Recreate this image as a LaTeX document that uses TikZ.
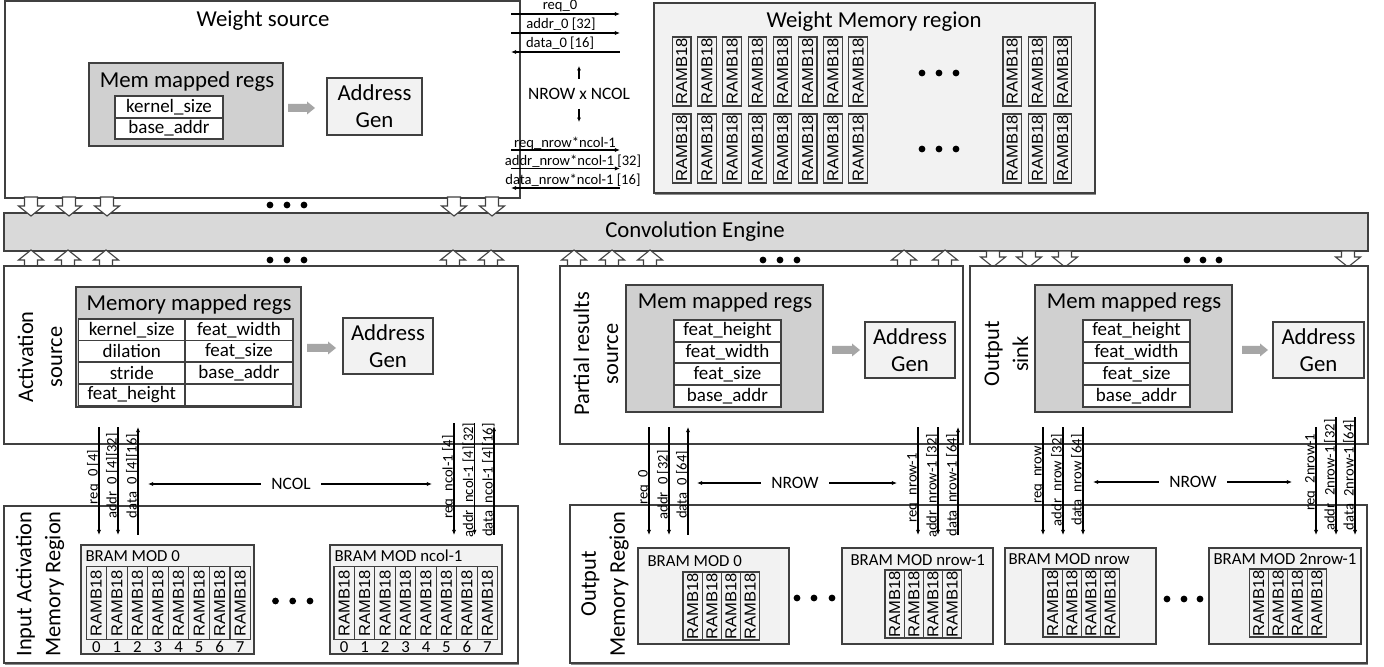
\documentclass[tikz,border=0pt]{standalone}
\usepackage{fontspec}
\setmainfont{Carlito}
\newfontfamily\arialf{Liberation Sans}
\usetikzlibrary{arrows.meta}
\definecolor{edge}{HTML}{404040}
\definecolor{regfill}{HTML}{D0D0D0}
\definecolor{lightfill}{HTML}{F2F2F2}
\definecolor{barfill}{HTML}{D9D9D9}
\definecolor{garrow}{HTML}{A6A6A6}
\definecolor{shadowc}{HTML}{8C8C8C}
\newcommand\bigf{\fontsize{11.4}{13.5}\selectfont}
\newcommand\rotf{\fontsize{11.2}{14.5}\selectfont}
\newcommand\medf{\fontsize{9.5}{11}\selectfont}
\newcommand\modf{\fontsize{8.4}{10}\selectfont}
\newcommand\sigf{\fontsize{7.3}{8.5}\selectfont}
\newcommand\nf{\fontsize{8.7}{10}\selectfont}
\newcommand\ramf{\arialf\fontsize{7.9}{9}\selectfont}
\newcommand\ramt{\scalebox{1.05}[1]{RAMB18}}
% box node from corner coordinates (pixel units)
\newcommand\mybox[6][]{\node[draw=edge,inner sep=0pt,#1,minimum width={(#5-#3)*0.5pt},minimum height={(#6-#4)*0.5pt}] (#2) at ({(#3+#5)/2},{(#4+#6)/2}) {};}
\newcommand\mycell[7][]{\node[draw=edge,fill=white,inner sep=0pt,font=\medf,#1,minimum width={(#5-#3)*0.5pt},minimum height={(#6-#4)*0.5pt}] (#2) at ({(#3+#5)/2},{(#4+#6)/2}) {#7};}
% block arrows
\newcommand\darr[3]{\draw[draw=edge,fill=white] (#1-6.5,#2) -- (#1+6.5,#2) -- (#1+6.5,#3-10) -- (#1+12.5,#3-10) -- (#1,#3) -- (#1-12.5,#3-10) -- (#1-6.5,#3-10) -- cycle;}
\newcommand\uarr[3]{\draw[draw=edge,fill=white] (#1-6.5,#2) -- (#1+6.5,#2) -- (#1+6.5,#3+10) -- (#1+12.5,#3+10) -- (#1,#3) -- (#1-12.5,#3+10) -- (#1-6.5,#3+10) -- cycle;}
\newcommand\garr[3]{\fill[garrow] (#1,#3-4) -- (#2-8,#3-4) -- (#2-8,#3-6.5) -- (#2,#3) -- (#2-8,#3+6.5) -- (#2-8,#3+4) -- (#1,#3+4) -- cycle;}
\newcommand\threedots[4]{\fill (#1,#4) circle[radius=1.7pt] (#2,#4) circle[radius=1.7pt] (#3,#4) circle[radius=1.7pt];}
\begin{document}
\begin{tikzpicture}[x=0.5pt,y=-0.5pt,line width=0.55pt,
  >={Latex[length=2.6pt,width=2.2pt]},
  sig/.style={font=\sigf,inner sep=0pt},
  vsig/.style={font=\sigf,inner sep=0pt,rotate=90,anchor=base},
  title/.style={font=\bigf,inner sep=0pt},
  rottitle/.style={font=\rotf,rotate=90,align=center,inner sep=0pt},
  ramw/.style={draw=edge,rotate=90,inner sep=0pt,minimum width=34.5pt,minimum height=9.25pt,font=\ramf},
  ramin/.style={draw=edge,rotate=90,inner sep=0pt,minimum width=36.5pt,minimum height=10.25pt,font=\ramf},
  ramo/.style={draw=edge,rotate=90,inner sep=0pt,minimum width=34pt,minimum height=9.6pt,font=\ramf},
  nlab/.style={font=\nf,inner ysep=0pt,inner xsep=5pt},
  modlab/.style={font=\modf,anchor=west,inner sep=0pt},
  ag/.style={draw=edge,fill=lightfill,font=\bigf,align=center,inner sep=0pt}]
\useasboundingbox (0,0) rectangle (1384,667);

% ================= Weight source =================
\mybox[fill=white]{ws}{5}{1}{520}{198}
\node[title] (wst) at (263,21) {Weight source};
\mybox[fill=regfill]{wsr}{89}{63}{283}{146}
\node[title] (wsrt) at (187,82) {Mem mapped regs};
\mycell{wsc1}{115}{96}{223}{118}{kernel\_size}
\mycell{wsc2}{115}{118}{223}{139}{base\_addr}
\garr{288}{315}{108}
\node[ag,minimum width=47.5pt,minimum height=28.5pt] (wsag) at (374.5,106.5) {Address\\Gen};

% weight signals
\node[sig,anchor=base] (s1) at (560,10) {req\_0};
\draw[->] (511,14) -- (620,14);
\node[sig,anchor=base] (s2) at (561,29) {addr\_0 [32]};
\draw[->] (511,33) -- (620,33);
\node[sig,anchor=base] (s3) at (560,48) {data\_0 [16]};
\draw[<-] (511,52) -- (620,52);
\node[font=\nf,inner sep=0pt] (nxn) at (579,94) {NROW x NCOL};
\draw[->,>={Latex[length=2.2pt,width=2pt]}] (579,79) -- (579,66);
\draw[->,>={Latex[length=2.2pt,width=2pt]}] (579,109) -- (579,122);
\node[sig,anchor=base] (s4) at (565,147.5) {req\_nrow*ncol-1};
\draw[->] (511,150) -- (620,150);
\node[sig,anchor=base] (s5) at (573,166) {addr\_nrow*ncol-1 [32]};
\draw[->] (511,168.5) -- (620,168.5);
\node[sig,anchor=base] (s6) at (573,185) {data\_nrow*ncol-1 [16]};
\draw[<-] (511,188) -- (620,188);

% ================= Weight memory region =================
\fill[shadowc] (655,5) rectangle (1096,195);
\mybox[fill=lightfill]{wm}{654}{3}{1095}{193}
\node[title] (wmt) at (874,22) {Weight Memory region};
\foreach \i in {0,...,7}{
  \node[ramw] (wa\i) at ({681.75+25.2*\i},71.5) {\ramt};
  \node[ramw] (wb\i) at ({681.75+25.2*\i},148.5) {\ramt};
}
\foreach \x [count=\j] in {1012.25,1037.45,1062.65}{
  \node[ramw] (wc\j) at (\x,71.5) {\ramt};
  \node[ramw] (wd\j) at (\x,148.5) {\ramt};
}
\threedots{922}{939}{956}{73}
\threedots{922}{939}{956}{149}

% ================= Convolution engine =================
\mybox[fill=barfill]{ce}{4}{213}{1368}{251}
\node[title] (cet) at (695,232) {Convolution Engine};
\foreach \x in {31,69,107,454,492}{\darr{\x}{197}{216}}
\threedots{270}{287}{304}{205}
\foreach \x in {31,68,106,453,491}{\uarr{\x}{266}{250}}
\threedots{270}{287}{304}{260}
\foreach \x in {574,612,650,904,945}{\uarr{\x}{266}{250}}
\threedots{763}{780}{797}{260}
\foreach \x in {993,1029,1065,1348}{\darr{\x}{251}{267}}
\threedots{1187}{1203}{1219}{260}

% ================= Activation source =================
\mybox[fill=white]{as}{4}{266}{518}{444}
\node[rottitle] (ast) at (40,357) {Activation\\source};
\mybox[fill=regfill]{asr}{76}{287}{301}{407}
\node[title] (asrt) at (189,305) {Memory mapped regs};
\mycell{a11}{78.5}{319}{185}{340.5}{kernel\_size}
\mycell{a12}{185}{319}{293}{340.5}{feat\_width}
\mycell{a21}{78.5}{340.5}{185}{362}{dilation}
\mycell{a22}{185}{340.5}{293}{362}{feat\_size}
\mycell{a31}{78.5}{362}{185}{384}{stride}
\mycell{a32}{185}{362}{293}{384}{base\_addr}
\mycell{a41}{78.5}{384}{185}{406}{feat\_height}
\mycell{a42}{185}{384}{293}{406}{}
\garr{307}{336}{348}
\node[ag,minimum width=45pt,minimum height=28pt] (asag) at (388,346) {Address\\Gen};

% ================= Partial results source =================
\mybox[fill=white]{ps}{560}{266}{963}{444}
\node[rottitle] (pst) at (596,354) {Partial results\\source};
\mybox[fill=regfill]{psr}{626}{285}{823}{412}
\node[title] (psrt) at (725,303) {Mem mapped regs};
\mycell{p1}{674}{320}{781}{342}{feat\_height}
\mycell{p2}{674}{342}{781}{363}{feat\_width}
\mycell{p3}{674}{363}{781}{385}{feat\_size}
\mycell{p4}{674}{385}{781}{407}{base\_addr}
\garr{832}{860}{350}
\node[ag,minimum width=45pt,minimum height=28pt] (psag) at (910,350) {Address\\Gen};

% ================= Output sink =================
\mybox[fill=white]{os}{970}{266}{1368}{444}
\node[rottitle] (ost) at (1006.5,354) {Output\\sink};
\mybox[fill=regfill]{osr}{1035}{285}{1232}{412}
\node[title] (osrt) at (1134,303) {Mem mapped regs};
\mycell{o1}{1083}{320}{1190}{342}{feat\_height}
\mycell{o2}{1083}{342}{1190}{363}{feat\_width}
\mycell{o3}{1083}{363}{1190}{385}{feat\_size}
\mycell{o4}{1083}{385}{1190}{407}{base\_addr}
\garr{1242}{1268}{350}
\node[ag,minimum width=45.5pt,minimum height=28pt] (osag) at (1318.5,350) {Address\\Gen};

% ================= Input activation memory region =================
\fill[shadowc] (5,508) rectangle (519,665);
\mybox[fill=white]{im}{4}{506}{518}{663}
\node[rottitle] (imt) at (40,584) {Input Activation\\Memory Region};
\mybox[fill=lightfill]{ib0}{81}{545}{254}{654}
\node[modlab] (ib0t) at (85,556) {BRAM MOD 0};
\foreach \i in {0,...,7}{
  \node[ramin] (ia\i) at ({96.3+20.56*\i},603) {\ramt};
  \node[font=\modf,inner sep=0pt] (iad\i) at ({96.3+20.56*\i},647) {\i};
}
\mybox[fill=lightfill]{ib1}{330}{545}{502}{654}
\node[modlab] (ib1t) at (334,556) {BRAM MOD ncol-1};
\foreach \i in {0,...,7}{
  \node[ramin] (ib\i) at ({344.2+20.45*\i},603) {\ramt};
  \node[font=\modf,inner sep=0pt] (ibd\i) at ({344.2+20.45*\i},647) {\i};
}
\threedots{275.5}{292.7}{310}{601}

% activation signals
\draw[->] (99,427) -- (99,535);
\draw[->] (118,427) -- (118,535);
\draw[<-] (138,427) -- (138,535);
\node[vsig] (l1) at (97.5,477) {req\_0 [4]};
\node[vsig] (l2) at (116.5,476) {addr\_0 [4][32]};
\node[vsig] (l3) at (136.5,476) {data\_0 [4][16]};
\draw[->] (454,423) -- (454,535);
\draw[->] (474.5,423) -- (474.5,535);
\draw[<-] (494,426) -- (494,535);
\node[vsig] (l4) at (452.5,477) {req\_ncol-1 [4]};
\node[vsig] (l5) at (473,480) {addr\_ncol-1 [4][32]};
\node[vsig] (l6) at (492.5,480) {data\_ncol-1 [4][16]};
\node[nlab] (ncol) at (291,484) {NCOL};
\draw[->] (ncol.west) -- (148,484);
\draw[->] (ncol.east) -- (432,484);

% ================= Output memory region =================
\fill[shadowc] (571,507) rectangle (1368,665);
\mybox[fill=white]{om}{570}{505}{1367}{663}
\node[rottitle] (omt) at (605,584) {Output\\Memory Region};
\mybox[fill=lightfill]{ob0}{638}{548}{789}{644}
\node[modlab] (ob0t) at (647,561) {BRAM MOD 0};
\mybox[fill=lightfill]{ob1}{842}{548}{993}{644}
\node[modlab] (ob1t) at (850,560) {BRAM MOD nrow-1};
\mybox[fill=lightfill]{ob2}{1005}{548}{1156}{644}
\node[modlab] (ob2t) at (1008,559) {BRAM MOD nrow};
\mybox[fill=lightfill]{ob3}{1209}{548}{1361}{644}
\node[modlab] (ob3t) at (1213,559) {BRAM MOD 2nrow-1};
\foreach \i in {0,...,3}{
  \node[ramo] (oa\i) at ({692.6+19.2*\i},606) {\ramt};
  \node[ramo] (ob\i) at ({894.6+19.2*\i},604) {\ramt};
  \node[ramo] (oc\i) at ({1052.6+19.2*\i},603) {\ramt};
  \node[ramo] (od\i) at ({1258.7+19.4*\i},603) {\ramt};
}
\threedots{797}{814}{832}{598}
\threedots{1167}{1184}{1200}{599}

% partial result signals
\draw[->] (649,427) -- (649,535);
\draw[->] (669,427) -- (669,535);
\draw[<-] (688,427) -- (688,535);
\node[vsig] (m1) at (647.5,487) {req\_0};
\node[vsig] (m2) at (667.5,485) {addr\_0 [32]};
\node[vsig] (m3) at (686.5,485) {data\_0 [64]};
\draw[->] (918,427) -- (918,535);
\draw[->] (938,427) -- (938,535);
\draw[<-] (958,427) -- (958,535);
\node[vsig] (m4) at (916.5,488) {req\_nrow-1};
\node[vsig] (m5) at (936.5,486) {addr\_nrow-1 [32]};
\node[vsig] (m6) at (956.5,485) {data\_nrow-1 [64]};
\node[nlab] (nrow1) at (795,483) {NROW};
\draw[->] (nrow1.west) -- (697,483);
\draw[->] (nrow1.east) -- (897,483);

% output sink signals
\draw[->] (1043,427) -- (1043,535);
\draw[->] (1063,427) -- (1063,535);
\draw[->] (1083,427) -- (1083,535);
\node[vsig] (n1) at (1041.5,475) {req\_nrow};
\node[vsig] (n2) at (1061.5,480) {addr\_nrow [32]};
\node[vsig] (n3) at (1081.5,480) {data\_nrow [64]};
\draw[->] (1316,427) -- (1316,535);
\draw[->] (1336,417) -- (1336,535);
\draw[->] (1355,417) -- (1355,535);
\node[vsig] (n4) at (1314.5,472) {req\_2nrow-1};
\node[vsig] (n5) at (1334.5,475) {addr\_2nrow-1 [32]};
\node[vsig] (n6) at (1353.5,475) {data\_2nrow-1 [64]};
\node[nlab] (nrow2) at (1193,482) {NROW};
\draw[->] (nrow2.west) -- (1093,482);
\draw[->] (nrow2.east) -- (1292,482);
\end{tikzpicture}
\end{document}
